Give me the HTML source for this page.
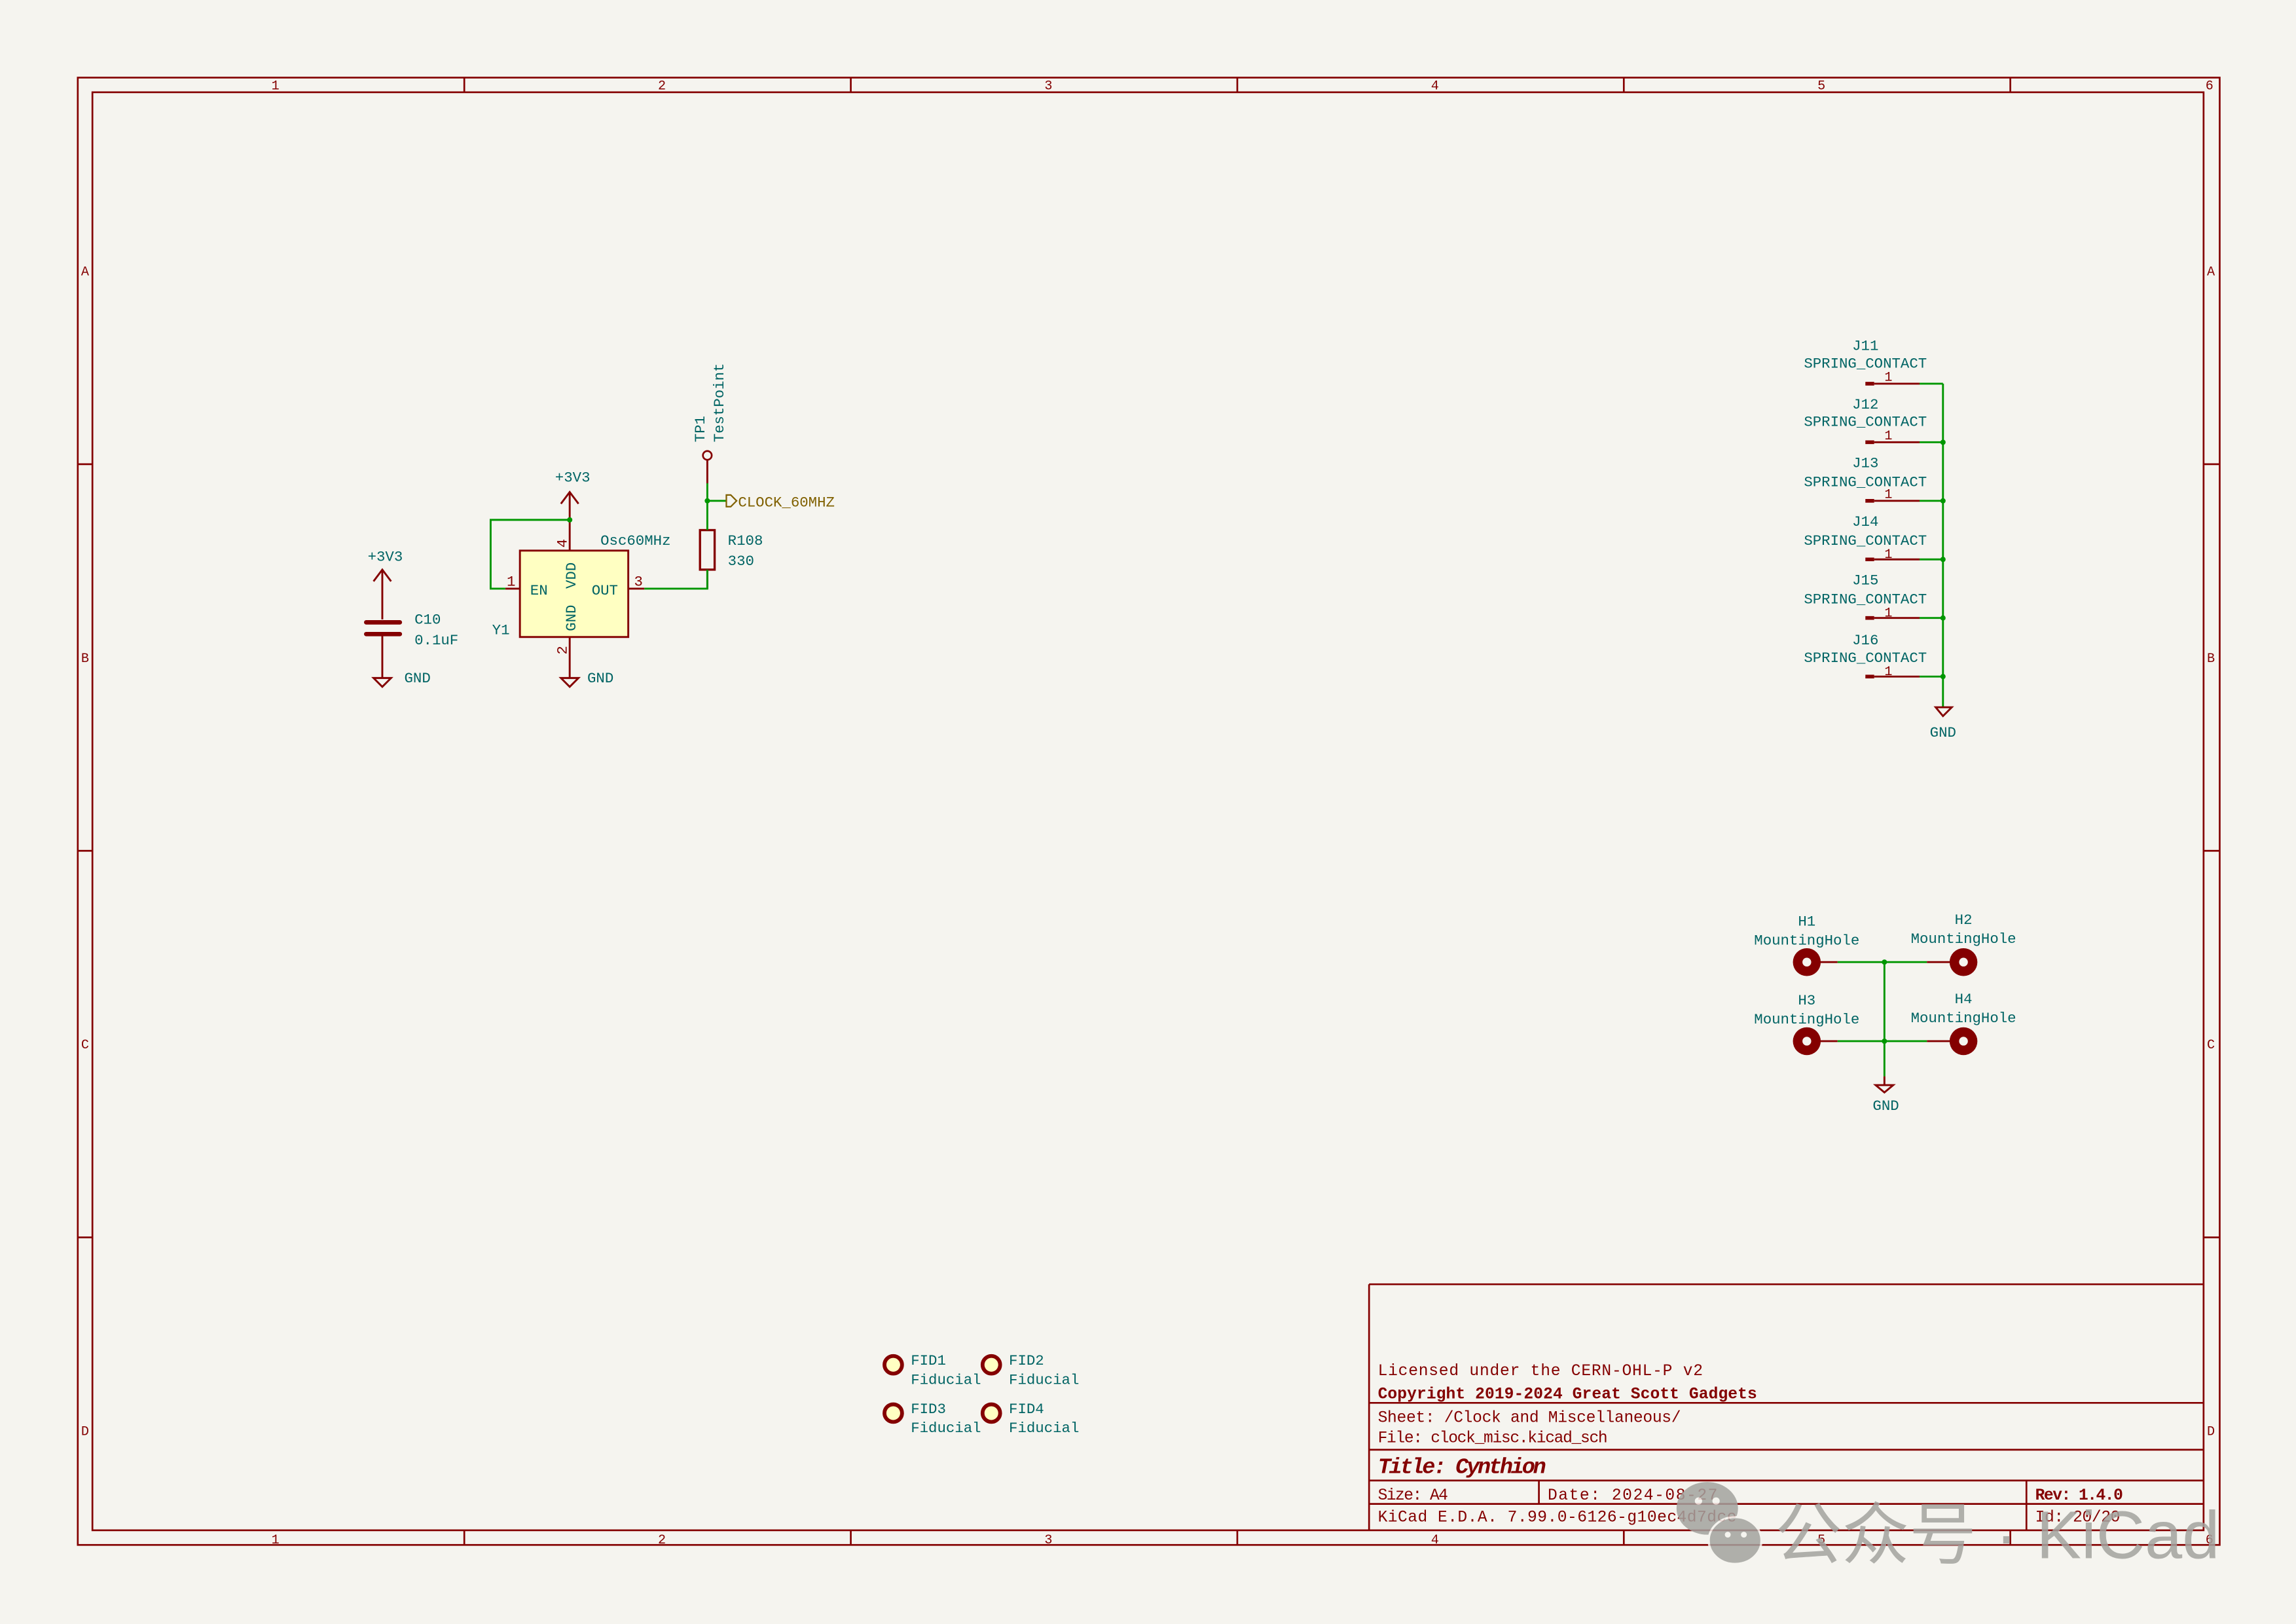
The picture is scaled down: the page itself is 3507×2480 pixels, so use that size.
<!DOCTYPE html>
<html><head><meta charset="utf-8"><style>
html,body{margin:0;padding:0;background:#f5f4ef;}
svg{display:block;}
text{font-family:"Liberation Mono","DejaVu Sans Mono",monospace;}
.t{fill:#006464;font-size:10px;}
.r{fill:#840000;}
.w{stroke:#009600;stroke-width:1.3;fill:none;}
.p{stroke:#840000;stroke-width:1.3;fill:none;}
</style></head><body>
<svg width="3507" height="2480" viewBox="0 0 1568 1109" xmlns="http://www.w3.org/2000/svg">
<rect x="0" y="0" width="1568" height="1109" fill="#f5f4ef"/>
<g stroke="#840000" stroke-width="1.2" fill="none">
<rect x="53" y="53" width="1463" height="1002"/>
<rect x="63" y="63" width="1442" height="982"/>
<path d="M317 53V63M581 53V63M845 53V63M1109 53V63M1373 53V63M317 1045V1055M581 1045V1055M845 1045V1055M1109 1045V1055M1373 1045V1055M53 317H63M53 581H63M53 845H63M1505 317H1516M1505 581H1516M1505 845H1516"/>
</g>
<g class="r" font-size="9" text-anchor="middle">
<text x="188" y="61">1</text><text x="452" y="61">2</text><text x="716" y="61">3</text><text x="980" y="61">4</text><text x="1244" y="61">5</text><text x="1509" y="61">6</text>
<text x="188" y="1054">1</text><text x="452" y="1054">2</text><text x="716" y="1054">3</text><text x="980" y="1054">4</text><text x="1244" y="1054">5</text><text x="1509" y="1054">6</text>
<text x="58" y="188">A</text><text x="58" y="452">B</text><text x="58" y="716">C</text><text x="58" y="980">D</text>
<text x="1510" y="188">A</text><text x="1510" y="452">B</text><text x="1510" y="716">C</text><text x="1510" y="980">D</text>
</g>
<g stroke="#840000" stroke-width="1.2" fill="none">
<path d="M935 877H1505M935 877V1045M935 958H1505M935 990H1505M935 1011H1505M935 1027H1505M1051 1011V1027M1384 1011V1045"/>
</g>
<g class="r" font-size="11">
<text x="941" y="939" textLength="222">Licensed under the CERN-OHL-P v2</text>
<text x="941" y="955" font-weight="bold" textLength="259">Copyright 2019-2024 Great Scott Gadgets</text>
<text x="941" y="971" textLength="207">Sheet: /Clock and Miscellaneous/</text>
<text x="941" y="985" textLength="157">File: clock_misc.kicad_sch</text>
<text x="941" y="1006" font-size="15" font-weight="bold" font-style="italic" textLength="115">Title: Cynthion</text>
<text x="941" y="1024" textLength="48">Size: A4</text>
<text x="1057" y="1024" textLength="116">Date: 2024-08-27</text>
<text x="1390" y="1024" font-weight="bold" textLength="60">Rev: 1.4.0</text>
<text x="941" y="1039" textLength="245">KiCad E.D.A. 7.99.0-6126-g10ec4d7dce</text>
<text x="1390" y="1039" textLength="58">Id: 20/20</text>
</g>
<path class="p" d="M255 397L261 389L267 397M261 389V423M261 433V463M255 463H267L261 469Z"/>
<path d="M250 425H273M250 433H273" stroke="#840000" stroke-width="3" stroke-linecap="round"/>
<text class="t" x="251" y="383">+3V3</text>
<text class="t" x="283" y="426">C10</text>
<text class="t" x="283" y="440">0.1uF</text>
<text class="t" x="276" y="466">GND</text>
<rect x="355" y="376" width="74" height="59" fill="#ffffc2" stroke="#840000" stroke-width="1.3"/>
<path class="p" d="M383 344L389 336L395 344M389 336V376M389 435V463M383 463H395L389 469ZM345 402H355M429 402H440M483 389V402M483 314V330"/>
<rect x="478" y="362" width="10" height="27" fill="none" stroke="#840000" stroke-width="1.5"/>
<circle cx="483" cy="311" r="3" fill="none" stroke="#840000" stroke-width="1.2"/>
<path class="w" d="M389 355H335V402H345M440 402H483V389M483 330V362M483 342H496"/>
<circle cx="389" cy="355" r="1.8" fill="#009600"/>
<circle cx="483" cy="342" r="1.8" fill="#009600"/>
<path d="M496 338H499L503 342L499 346H496Z" fill="none" stroke="#806000" stroke-width="1"/>
<text x="504" y="346" font-size="10" fill="#806000">CLOCK_60MHZ</text>
<text class="t" x="379" y="329">+3V3</text>
<text class="t" x="410" y="372">Osc60MHz</text>
<text class="t" x="336" y="433">Y1</text>
<text class="t" x="362" y="406">EN</text>
<text class="t" x="404" y="406">OUT</text>
<text class="t" transform="translate(393,402) rotate(-90)">VDD</text>
<text class="t" transform="translate(393,431) rotate(-90)">GND</text>
<text class="r" font-size="10" x="346" y="400">1</text>
<text class="r" font-size="10" x="433" y="400">3</text>
<text class="r" font-size="10" transform="translate(387,374) rotate(-90)">4</text>
<text class="r" font-size="10" transform="translate(387,447) rotate(-90)">2</text>
<text class="t" x="401" y="466">GND</text>
<text class="t" x="497" y="372">R108</text>
<text class="t" x="497" y="386">330</text>
<text class="t" transform="translate(481,302) rotate(-90)">TP1</text>
<text class="t" transform="translate(494,302) rotate(-90)">TestPoint</text>
<g>
<path class="w" d="M1327 262V483"/>
<path class="p" d="M1322 483H1333L1327 489Z"/>
<text class="t" x="1318" y="503">GND</text>
</g>
<g>
<text class="t" x="1265" y="239">J11</text><text class="t" x="1232" y="251">SPRING_CONTACT</text>
<text class="t" x="1265" y="279">J12</text><text class="t" x="1232" y="291">SPRING_CONTACT</text>
<text class="t" x="1265" y="319">J13</text><text class="t" x="1232" y="332">SPRING_CONTACT</text>
<text class="t" x="1265" y="359">J14</text><text class="t" x="1232" y="372">SPRING_CONTACT</text>
<text class="t" x="1265" y="399">J15</text><text class="t" x="1232" y="412">SPRING_CONTACT</text>
<text class="t" x="1265" y="440">J16</text><text class="t" x="1232" y="452">SPRING_CONTACT</text>
<g class="r" font-size="9">
<text x="1287" y="260">1</text><text x="1287" y="300">1</text><text x="1287" y="340">1</text><text x="1287" y="381">1</text><text x="1287" y="421">1</text><text x="1287" y="461">1</text>
</g>
<path class="p" d="M1280 262H1311M1280 302H1311M1280 342H1311M1280 382H1311M1280 422H1311M1280 462H1311"/>
<path d="M1274 262H1280M1274 302H1280M1274 342H1280M1274 382H1280M1274 422H1280M1274 462H1280" stroke="#840000" stroke-width="2.5"/>
<path class="w" d="M1311 262H1327M1311 302H1327M1311 342H1327M1311 382H1327M1311 422H1327M1311 462H1327"/>
<g fill="#009600"><circle cx="1327" cy="302" r="1.8"/><circle cx="1327" cy="342" r="1.8"/><circle cx="1327" cy="382" r="1.8"/><circle cx="1327" cy="422" r="1.8"/><circle cx="1327" cy="462" r="1.8"/></g>
</g>
<g>
<path class="p" d="M1243 657H1255M1316 657H1332M1243 711H1255M1316 711H1332M1287 735V741M1281 741H1293L1287 746Z"/>
<path class="w" d="M1255 657H1316M1255 711H1316M1287 657V735"/>
<g fill="#009600"><circle cx="1287" cy="657" r="1.8"/><circle cx="1287" cy="711" r="1.8"/></g>
<g fill="#840000"><circle cx="1234" cy="657" r="9.5"/><circle cx="1341" cy="657" r="9.5"/><circle cx="1234" cy="711" r="9.5"/><circle cx="1341" cy="711" r="9.5"/></g>
<g fill="#f5f4ef"><circle cx="1234" cy="657" r="3"/><circle cx="1341" cy="657" r="3"/><circle cx="1234" cy="711" r="3"/><circle cx="1341" cy="711" r="3"/></g>
<g class="t" text-anchor="middle">
<text x="1234" y="632">H1</text><text x="1234" y="645">MountingHole</text>
<text x="1341" y="631">H2</text><text x="1341" y="644">MountingHole</text>
<text x="1234" y="686">H3</text><text x="1234" y="699">MountingHole</text>
<text x="1341" y="685">H4</text><text x="1341" y="698">MountingHole</text>
<text x="1288" y="758">GND</text>
</g>
</g>
<g fill="#ffffc2" stroke="#840000" stroke-width="2.6">
<circle cx="610" cy="932" r="6"/><circle cx="677" cy="932" r="6"/><circle cx="610" cy="965" r="6"/><circle cx="677" cy="965" r="6"/>
</g>
<g class="t">
<text x="622" y="932">FID1</text><text x="622" y="945">Fiducial</text>
<text x="689" y="932">FID2</text><text x="689" y="945">Fiducial</text>
<text x="622" y="965">FID3</text><text x="622" y="978">Fiducial</text>
<text x="689" y="965">FID4</text><text x="689" y="978">Fiducial</text>
</g>
<g opacity="0.85" fill="#a3a39f">
<ellipse cx="1166" cy="1030" rx="21" ry="18"/>
<ellipse cx="1185" cy="1052" rx="18" ry="16" stroke="#f5f4ef" stroke-width="1.5"/>
<circle cx="1160" cy="1025" r="2.5" fill="#f5f4ef"/><circle cx="1172" cy="1025" r="2.5" fill="#f5f4ef"/>
<circle cx="1180" cy="1048" r="2" fill="#f5f4ef"/><circle cx="1191" cy="1048" r="2" fill="#f5f4ef"/>
<text x="1212" y="1064" font-size="46" textLength="304" style="font-family:'Liberation Sans','Noto Sans CJK SC',sans-serif">公众号 · KiCad</text>
</g>
</svg>
</body></html>
